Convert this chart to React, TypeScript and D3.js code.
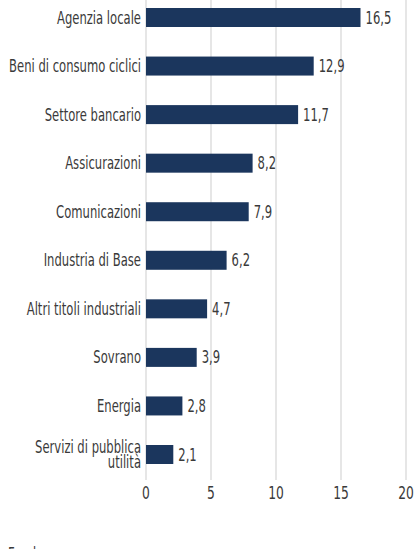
import React from 'react';
import { useRef, useEffect } from 'react';
import * as d3 from 'd3';

const categories = [
  'Agenzia locale',
  'Beni di consumo ciclici',
  'Settore bancario',
  'Assicurazioni',
  'Comunicazioni',
  'Industria di Base',
  'Altri titoli industriali',
  'Sovrano',
  'Energia',
  'Servizi di pubblica utilità',
];
const values = [16.5, 12.9, 11.7, 8.2, 7.9, 6.2, 4.7, 3.9, 2.8, 2.1];
const ticks = [0, 5, 10, 15, 20];
const legendLabel = 'Fondo';

const FONT = '"DejaVu Sans Condensed", "Liberation Sans Narrow", sans-serif';

export default function App() {
  const svgRef = useRef<SVGSVGElement>(null);

  useEffect(() => {
    const w = 416;
    const h = 549;
    const svg = d3.select(svgRef.current).attr('width', w).attr('height', h);
    svg.selectAll('*').remove();

    const x = d3.scaleLinear().domain([0, 20]).range([146, 406]);
    const y = d3.scalePoint<string>().domain(categories).range([17.5, 454.5]);
    const barH = 19;

    // measure to squeeze the font to the narrow look of the original
    const probe = svg
      .append('text')
      .style('font-family', FONT)
      .style('font-size', '17px')
      .text('Beni di consumo ciclici');
    const measured = (probe.node() as SVGTextElement).getComputedTextLength() || 170;
    probe.remove();
    const sx = 132 / measured;

    const addText = (
      g: d3.Selection<any, any, any, any>,
      tx: number,
      ty: number,
      lines: string[],
      anchor: string,
      size = 17,
      lh = 16
    ) => {
      const t = g
        .append('text')
        .attr('transform', `translate(${tx},${ty}) scale(${sx},1)`)
        .attr('text-anchor', anchor)
        .style('font-family', FONT)
        .style('font-size', `${size}px`)
        .style('fill', '#3a3a3a');
      lines.forEach((ln, k) => {
        t.append('tspan').attr('x', 0).attr('y', k * lh).text(ln);
      });
    };

    // gridlines
    svg
      .append('g')
      .selectAll('line')
      .data(ticks)
      .join('line')
      .attr('x1', (d) => x(d))
      .attr('x2', (d) => x(d))
      .attr('y1', 0)
      .attr('y2', 480)
      .attr('stroke', '#e6e6e6')
      .attr('stroke-width', 2);

    // tick labels
    const tickG = svg.append('g');
    ticks.forEach((t) => addText(tickG, x(t), 499, [String(t)], 'middle', 18));

    // bars
    svg
      .append('g')
      .selectAll('rect')
      .data(values)
      .join('rect')
      .attr('x', x(0))
      .attr('y', (d, i) => (y(categories[i]) as number) - barH / 2)
      .attr('width', (d) => x(d) - x(0))
      .attr('height', barH)
      .attr('fill', '#1b365d');

    // value labels
    const valG = svg.append('g');
    values.forEach((v, i) =>
      addText(
        valG,
        x(v) + 5,
        (y(categories[i]) as number) + 6,
        [d3.format('.1f')(v).replace('.', ',')],
        'start'
      )
    );

    // category labels (long one wraps)
    const catG = svg.append('g');
    categories.forEach((c) => {
      const lines = c.length > 24 ? ['Servizi di pubblica', 'utilità'] : [c];
      const lh = 16;
      const cy = y(c) as number;
      addText(catG, 141, cy + 6 - ((lines.length - 1) * lh) / 2, lines, 'end', 17, lh);
    });

    // legend
    addText(svg, 8, 560, [legendLabel], 'start');
  }, []);

  return (
    <svg
      ref={svgRef}
      style={{ position: 'absolute', left: 0, top: 0, display: 'block' }}
    ></svg>
  );
}
